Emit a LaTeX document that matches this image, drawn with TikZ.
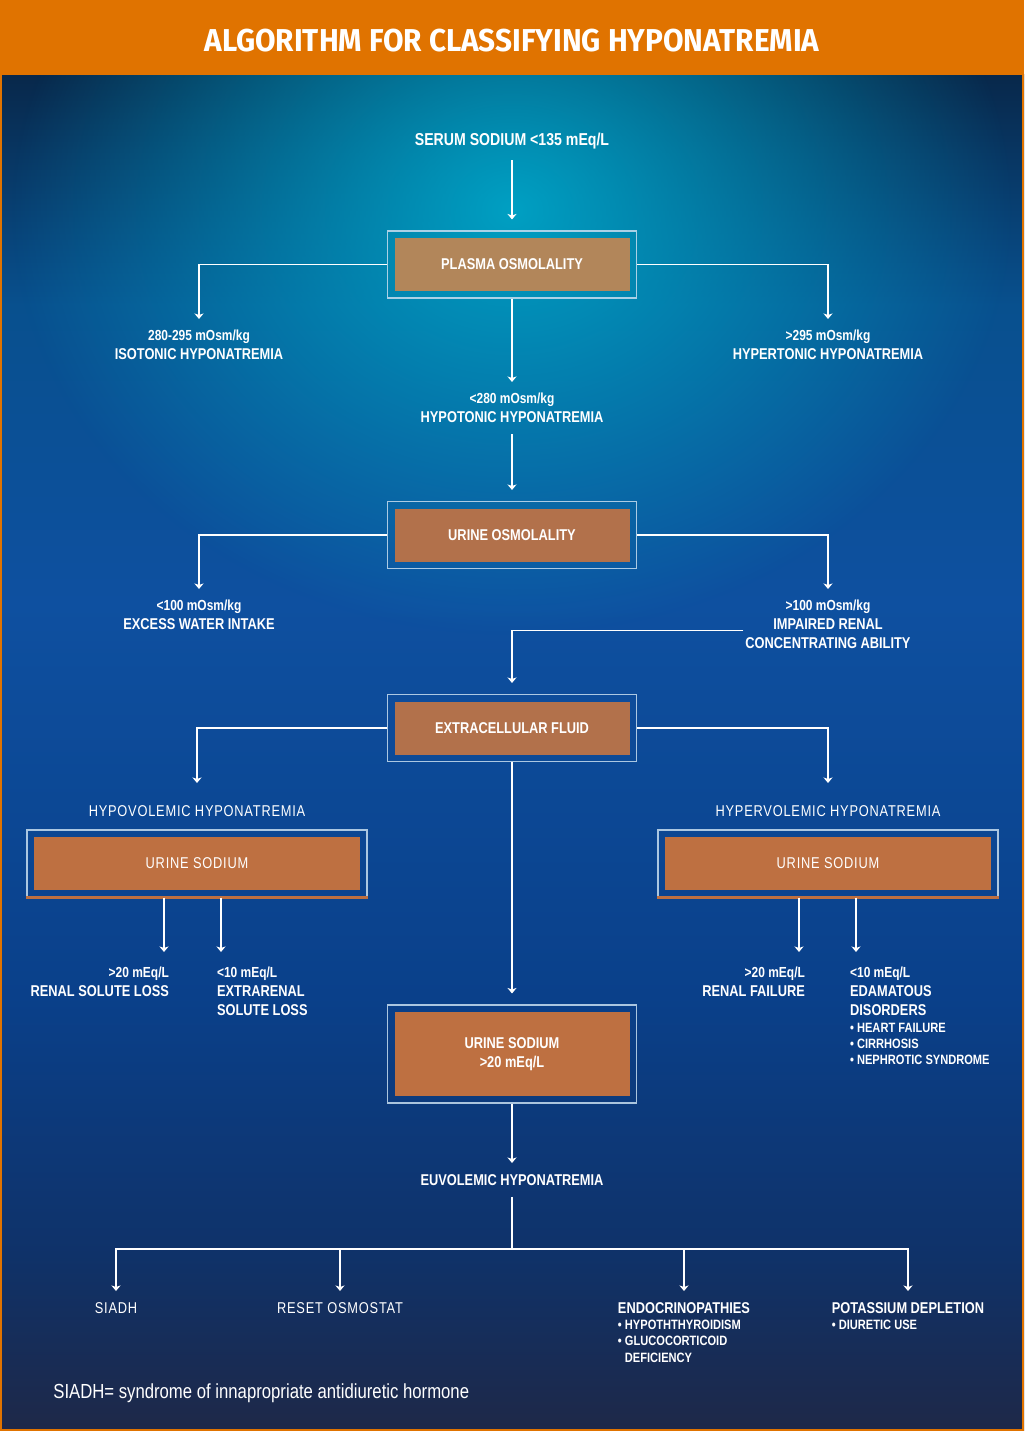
\documentclass[tikz,border=0pt]{standalone}
\usepackage{fontspec}
\setmainfont{Liberation Sans}[FakeStretch=0.82]
\newfontfamily\spacedfont{Liberation Sans}[FakeStretch=0.82, LetterSpace=5]
\newfontfamily\titlefont{Fira Sans}[FakeStretch=0.94]
\usetikzlibrary{positioning, arrows.meta, fadings}

\definecolor{titleorange}{RGB}{224,115,0}
\definecolor{bgA}{RGB}{30,40,72}
\definecolor{bgB}{RGB}{15,50,105}
\definecolor{bgC}{RGB}{10,64,138}
\definecolor{bgD}{RGB}{14,80,160}
\definecolor{bgE}{RGB}{8,80,142}
\definecolor{bgF}{RGB}{8,40,75}
\definecolor{glow}{RGB}{0,160,195}
\definecolor{boxtan}{RGB}{178,134,90}
\definecolor{boxcopper}{RGB}{178,113,75}
\definecolor{boxrust}{RGB}{190,112,65}
\definecolor{framecol}{RGB}{200,222,240}

% tikz maps the path onto the middle half (25bp--75bp) of the shading
\pgfdeclareverticalshading{bgshade}{100bp}{color(0bp)=(bgA); color(25bp)=(bgA); color(31.5bp)=(bgB);
    color(41bp)=(bgC); color(55.5bp)=(bgD); color(66.5bp)=(bgE); color(75bp)=(bgF); color(100bp)=(bgF)}
\tikzfading[name=glowfade, inner color=transparent!0, outer color=transparent!100]

\newcommand{\val}[1]{{\fontsize{8.3}{9}\selectfont #1}}
\newcommand{\itm}[1]{{\fontsize{7.7}{9}\selectfont #1}}

\begin{document}
\begin{tikzpicture}[x=0.2mm, y=0.2mm,
    wire/.style={draw=white, line width=0.6pt},
    conn/.style={wire, -{Stealth[width=1.8mm, length=1.1mm, inset=0.3mm]}},
    lbl/.style={text=white, font=\bfseries\fontsize{8.9}{10.8}\selectfont, align=center, inner xsep=1pt, inner ysep=2.2mm},
    thin lbl/.style={lbl, font=\spacedfont\fontsize{8.9}{10.8}\selectfont},
    box/.style={draw=framecol, draw opacity=0.85, line width=0.6pt, text=white, align=center,
        font=\bfseries\fontsize{8.9}{10.8}\selectfont, minimum width=49.8mm, minimum height=13.4mm,
        path picture={\fill[#1] ([shift={(1.4mm,-1.4mm)}]path picture bounding box.north west)
            rectangle ([shift={(-1.4mm,1.4mm)}]path picture bounding box.south east);}},
    side box/.style={box=boxrust, font=\spacedfont\fontsize{8.9}{10.8}\selectfont, minimum width=68mm}]

    % background
    \useasboundingbox (0,0) rectangle (1024,-1431);
    \shade [shading=bgshade] (0,-75) rectangle (1024,-1431);
    \fill [glow, path fading=glowfade] (512,-210) ellipse (100mm and 85mm);
    \fill [titleorange] (0,0) rectangle (1024,-75);
    \draw [titleorange, line width=0.3mm] (1,-75) -- (1,-1430) -- (1023,-1430) -- (1023,-75);
    \node (title) [text=white, font=\titlefont\bfseries\fontsize{18}{20}\selectfont] at (512,-41) {ALGORITHM FOR CLASSIFYING HYPONATREMIA};

    % osmolality
    \node (serum) [lbl, font=\bfseries\fontsize{9.8}{11}\selectfont] at (512,-141) {SERUM SODIUM <135 mEq/L};
    \node (po) [box=boxtan] at (512,-264.5) {PLASMA OSMOLALITY};
    \node (iso) [lbl, anchor=north] at (199,-319) {\val{280-295 mOsm/kg}\\ISOTONIC HYPONATREMIA};
    \node (hyper) [lbl, anchor=north] at (828,-319) {\val{>295 mOsm/kg}\\HYPERTONIC HYPONATREMIA};
    \node (hypo) [lbl, anchor=north] at (512,-382) {\val{<280 mOsm/kg}\\HYPOTONIC HYPONATREMIA};
    \node (uo) [box=boxcopper] at (512,-535) {URINE OSMOLALITY};
    \node (water) [lbl, anchor=north] at (199,-589) {\val{<100 mOsm/kg}\\EXCESS WATER INTAKE};
    \node (renal) [lbl, anchor=north] at (828,-589) {\val{>100 mOsm/kg}\\IMPAIRED RENAL\\CONCENTRATING ABILITY};

    % volume status
    \node (ecf) [box=boxcopper] at (512,-728) {EXTRACELLULAR FLUID};
    \node (hypov) [thin lbl, anchor=north] at (197,-794) {HYPOVOLEMIC HYPONATREMIA};
    \node (hyperv) [thin lbl, anchor=north] at (828,-794) {HYPERVOLEMIC HYPONATREMIA};
    \node (naleft) [side box] at (197,-863.5) {URINE SODIUM};
    \node (naright) [side box] at (828,-863.5) {URINE SODIUM};
    \node (nacentre) [box=boxrust, minimum height=19.6mm] at (512,-1054) {URINE SODIUM\\>20 mEq/L};

    \coordinate (a1) at (164,-952);
    \coordinate (a2) at (221,-952);
    \coordinate (a3) at (799,-952);
    \coordinate (a4) at (856,-952);
    \node (solute) [lbl, anchor=north east, align=right] at (171,-956) {\val{>20 mEq/L}\\RENAL SOLUTE LOSS};
    \node (extra) [lbl, anchor=north west, align=left] at (215,-956) {\val{<10 mEq/L}\\EXTRARENAL\\SOLUTE LOSS};
    \node (failure) [lbl, anchor=north east, align=right] at (807,-956) {\val{>20 mEq/L}\\RENAL FAILURE};
    \node (edema) [lbl, anchor=north west, align=left] at (848,-956) {\val{<10 mEq/L}\\EDAMATOUS\\DISORDERS\\[-1.4pt]
        \itm{• HEART FAILURE}\\[-1.6pt]\itm{• CIRRHOSIS}\\[-1.6pt]\itm{• NEPHROTIC SYNDROME}};

    % euvolemic
    \node (euvol) [lbl, anchor=north] at (512,-1163) {EUVOLEMIC HYPONATREMIA};
    \coordinate (split) at (512,-1249);
    \node (siadh) [thin lbl, anchor=north] at (116,-1291) {SIADH};
    \node (reset) [thin lbl, anchor=north] at (340,-1291) {RESET OSMOSTAT};
    \node (endo) [lbl, anchor=north, align=left] at (684,-1291) {ENDOCRINOPATHIES\\[-1.4pt]
        \itm{• HYPOTHTHYROIDISM}\\[-1.6pt]\itm{• GLUCOCORTICOID}\\[-1.6pt]\itm{\phantom{• }DEFICIENCY}};
    \node (potassium) [lbl, anchor=north, align=left] at (908,-1291) {POTASSIUM DEPLETION\\[-1.4pt]\itm{• DIURETIC USE}};
    \node (note) [anchor=west, inner sep=0pt, text=white, font=\fontsize{11.6}{13}\selectfont] at (53,-1393) {SIADH= syndrome of innapropriate antidiuretic hormone};

    \draw [conn, shorten >=2.2mm] (serum) -- (po);
    \draw [conn] (po.west) -| (iso.north);
    \draw [conn] (po.east) -| (hyper.north);
    \draw [conn] (po) -- (hypo);
    \draw [conn, shorten >=2.2mm] (hypo) -- (uo);
    \draw [conn] (uo.west) -| (water.north);
    \draw [conn] (uo.east) -| (renal.north);
    \draw [conn, shorten >=2.2mm] ([yshift=-1.2mm]renal.west) -| (ecf.north);
    \draw [conn, shorten >=2.2mm] (ecf.west) -| (hypov.north);
    \draw [conn, shorten >=2.2mm] (ecf.east) -| (hyperv.north);
    \draw [conn, shorten >=2.2mm] (ecf) -- (nacentre);
    \foreach \n in {naleft, naright}
        \draw [boxrust, line width=1.2pt] (\n.south west) -- (\n.south east);
    \draw [conn] (naleft.south -| a1) -- (a1);
    \draw [conn] (naleft.south -| a2) -- (a2);
    \draw [conn] (naright.south -| a3) -- (a3);
    \draw [conn] (naright.south -| a4) -- (a4);
    \draw [conn] (nacentre) -- (euvol);
    \draw [wire] (euvol) -- (split);
    \foreach \n in {siadh, reset, endo, potassium}
        \draw [conn] (split) -| (\n.north);
\end{tikzpicture}
\end{document}
